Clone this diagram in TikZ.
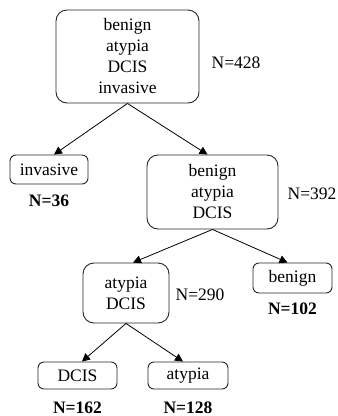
\documentclass[tikz,border=0pt]{standalone}
\usepackage{fontspec}
\setmainfont{Liberation Serif}
\usepackage{tikz}
\usetikzlibrary{arrows.meta, positioning}

\begin{document}
\begin{tikzpicture}[
    x=1pt, y=-1pt,
    node distance=4pt and 10pt,
    font=\fontsize{17.5}{21}\selectfont,
    bigbox/.style={
        rectangle,
        rounded corners=11pt,
        align=center,
        inner sep=0pt,
        draw=black!85,
        line width=0.9pt
    },
    leafbox/.style={
        bigbox,
        rounded corners=6pt
    },
    count/.style={
        inner sep=0pt,
        font=\fontsize{17.5}{21}\selectfont\bfseries
    },
    total/.style={
        inner sep=0pt
    },
    arrow/.style={
        line width=0.8pt,
        -{Triangle[length=8pt, width=8pt]}
    }
]
\useasboundingbox (0,0) rectangle (338,416);
% TOP LEVEL
\node (root) [bigbox, minimum width=143pt, minimum height=93pt] at (127.5,56.5) {benign\\atypia\\DCIS\\invasive};
\node (n428) [total] at (236,63) {N=428};
% SECOND LEVEL
\node (inv) [leafbox, minimum width=78pt, minimum height=29pt] at (49,169.5) {invasive};
\node (n36) [count, below=10pt of inv] {N=36};
\node (mid) [bigbox, minimum width=131pt, minimum height=74pt] at (212.5,192) {benign\\atypia\\DCIS};
\node (n392) [total] at (312,194) {N=392};
% THIRD LEVEL
\node (ad) [bigbox, minimum width=86pt, minimum height=60pt] at (126,293) {atypia\\DCIS};
\node (n290) [total] at (200,295) {N=290};
\node (ben) [leafbox, minimum width=79pt, minimum height=30pt] at (292.5,278) {benign};
\node (n102) [count, below=9pt of ben] {N=102};
% BOTTOM LEVEL
\node (dcis) [leafbox, minimum width=79pt, minimum height=27pt] at (77.5,375.5) {DCIS};
\node (n162) [count, below=12pt of dcis] {N=162};
\node (aty) [leafbox, minimum width=80pt, minimum height=27pt] at (188,375.5) {atypia};
\node (n128) [count, below=12pt of aty] {N=128};
% ARROWS
\draw [arrow] (root.south) -- ([xshift=5pt]inv.north);
\draw [arrow] (root.south) -- ([xshift=-5pt]mid.north);
\draw [arrow] (mid.south) -- ([xshift=7pt]ad.north);
\draw [arrow] (mid.south) -- ([xshift=-5pt]ben.north);
\draw [arrow] (ad.south) -- ([xshift=4.5pt]dcis.north);
\draw [arrow] (ad.south) -- ([xshift=-5pt]aty.north);
\end{tikzpicture}
\end{document}
